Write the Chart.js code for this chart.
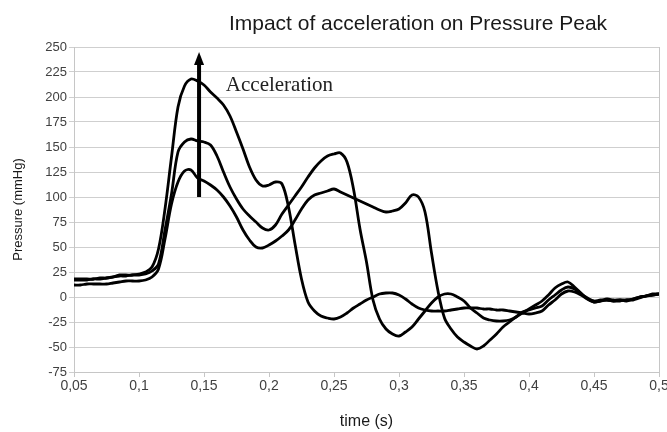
<!DOCTYPE html>
<html>
<head>
<meta charset="utf-8">
<script src="https://cdn.jsdelivr.net/npm/chart.js@4.4.0/dist/chart.umd.min.js"></script>
<style>
  html, body { margin: 0; padding: 0; background: #fff; }
  #wrap { position: relative; width: 667px; height: 432px; }
</style>
</head>
<body>
<div id="wrap"><canvas id="pressureChart"></canvas></div>
<script>
// time axis (s), one sample every 5 ms
const times = [
  0.050, 0.055, 0.060, 0.065, 0.070, 0.075, 0.080, 0.085, 0.090, 0.095,
  0.100, 0.105, 0.110, 0.115, 0.120, 0.125, 0.130, 0.135, 0.140, 0.145,
  0.150, 0.155, 0.160, 0.165, 0.170, 0.175, 0.180, 0.185, 0.190, 0.195,
  0.200, 0.205, 0.210, 0.215, 0.220, 0.225, 0.230, 0.235, 0.240, 0.245,
  0.250, 0.255, 0.260, 0.265, 0.270, 0.275, 0.280, 0.285, 0.290, 0.295,
  0.300, 0.305, 0.310, 0.315, 0.320, 0.325, 0.330, 0.335, 0.340, 0.345,
  0.350, 0.355, 0.360, 0.365, 0.370, 0.375, 0.380, 0.385, 0.390, 0.395,
  0.400, 0.405, 0.410, 0.415, 0.420, 0.425, 0.430, 0.435, 0.440, 0.445,
  0.450, 0.455, 0.460, 0.465, 0.470, 0.475, 0.480, 0.485, 0.490, 0.495,
  0.500
];

// pressure (mmHg), highest acceleration
const pressureHigh = [
  18, 18, 18, 18, 19, 19, 20, 22, 22, 22,
  23, 25, 30, 48, 88, 140, 190, 211, 218, 216,
  212, 205, 199, 192, 181, 165, 148, 130, 117, 111,
  112, 115, 113, 90, 53, 18, -5, -14, -19, -21,
  -22, -20, -16, -11, -7, -3, 0, 3, 4, 4,
  2, -2, -7, -11, -13, -14, -14, -14, -13, -12,
  -11, -11, -11, -12, -12, -13, -13, -14, -15, -16,
  -17, -16, -14, -8, -3, 3, 6, 5, 2, -2,
  -5, -4, -3, -4, -4, -3, -3, -1, 1, 2,
  3
];

// pressure (mmHg), middle acceleration
const pressureMid = [
  17, 17, 17, 18, 18, 19, 20, 21, 21, 22,
  22, 23, 26, 33, 67, 103, 145, 155, 158, 156,
  155, 152, 141, 125, 110, 98, 88, 81, 75, 69,
  67, 72, 83, 92, 101, 110, 120, 129, 136, 141,
  143, 144, 135, 108, 68, 35, -3, -22, -32, -37,
  -39, -35, -30, -22, -14, -6, 0, 3, 3, 0,
  -4, -11, -16, -21, -23, -24, -24, -23, -20, -15,
  -13, -11, -9, -3, 2, 7, 10, 8, 3, -1,
  -4, -3, -3, -4, -3, -3, -2, 0, 1, 2,
  3
];

// pressure (mmHg), lowest acceleration
const pressureLow = [
  12, 12, 13, 13, 13, 13, 14, 15, 16, 16,
  16, 17, 20, 28, 58, 93, 115, 126, 127, 119,
  116, 112, 107, 100, 91, 80, 67, 57, 50, 49,
  52, 56, 61, 67, 77, 88, 97, 102, 104, 106,
  108, 105, 102, 99, 96, 93, 90, 87, 85, 86,
  88, 94, 102, 100, 85, 44, 6, -21, -32, -40,
  -45, -49, -52, -49, -43, -37, -30, -25, -20, -16,
  -12, -8, -4, 2, 9, 13, 15, 10, 4, -2,
  -5, -4, -2, -3, -3, -4, -2, 0, 1, 3,
  3
];

// arrow + label annotation (data units)
const arrowTime = 0.1462;
const arrowFrom = 100;
const arrowTo = 245;
const noteTime = 0.1668;
const noteValue = 206;
const noteText = 'Acceleration';
const chartTitle = 'Impact of acceleration on Pressure Peak';

function toSeries(values) {
    return times.map(function (t, i) { return { x: t, y: values[i] }; });
}

function lineSet(values) {
    return {
        data: toSeries(values),
        borderColor: '#000',
        borderWidth: 2.8,
        pointRadius: 0,
        tension: 0.35,
        fill: false,
    };
}

const decorations = {
    id: 'decorations',
    afterDatasetsDraw(chart) {
        const ctx = chart.ctx;
        const area = chart.chartArea;
        const xs = chart.scales.x;
        const ys = chart.scales.y;
        ctx.save();
        // right frame edge
        ctx.strokeStyle = '#c6c6c6';
        ctx.lineWidth = 1;
        ctx.beginPath();
        ctx.moveTo(Math.round(area.right) + 0.5, area.top);
        ctx.lineTo(Math.round(area.right) + 0.5, area.bottom);
        ctx.stroke();

        // acceleration arrow
        const ax = xs.getPixelForValue(arrowTime);
        const y0 = ys.getPixelForValue(arrowFrom);
        const y1 = ys.getPixelForValue(arrowTo);
        ctx.strokeStyle = '#000';
        ctx.fillStyle = '#000';
        ctx.lineWidth = 4;
        ctx.beginPath();
        ctx.moveTo(ax, y0);
        ctx.lineTo(ax, y1 + 10);
        ctx.stroke();
        ctx.beginPath();
        ctx.moveTo(ax, y1);
        ctx.lineTo(ax - 5, y1 + 13);
        ctx.lineTo(ax + 5, y1 + 13);
        ctx.closePath();
        ctx.fill();

        // annotation text
        ctx.font = '21px "Liberation Serif", "DejaVu Serif", serif';
        ctx.fillStyle = '#222';
        ctx.textAlign = 'left';
        ctx.textBaseline = 'alphabetic';
        ctx.fillText(noteText, xs.getPixelForValue(noteTime), ys.getPixelForValue(noteValue));

        // chart title
        ctx.font = '21px "Liberation Sans", Arial, sans-serif';
        ctx.fillStyle = '#1a1a1a';
        ctx.textAlign = 'center';
        ctx.fillText(chartTitle, 418, 30);
        ctx.restore();
    }
};

function buildChart() {
    const ctx = document.getElementById('pressureChart').getContext('2d');
    new Chart(ctx, {
        type: 'line',
        data: {
            datasets: [lineSet(pressureHigh), lineSet(pressureMid), lineSet(pressureLow)],
        },
        options: {
            responsive: true,
            maintainAspectRatio: false,
            animation: false,
            events: [],
            layout: { padding: { top: 47, left: 4, right: 8, bottom: 1 } },
            plugins: {
                legend: { display: false },
                tooltip: { enabled: false },
            },
            scales: {
                x: {
                    type: 'linear',
                    min: 0.05,
                    max: 0.5,
                    ticks: {
                        stepSize: 0.05,
                        color: '#404040',
                        padding: 1,
                        maxRotation: 0,
                        font: { family: '"Liberation Sans", Arial, sans-serif', size: 14 },
                        callback: function (v) {
                            return String(Number(v.toFixed(2))).replace('.', ',');
                        },
                    },
                    grid: { drawOnChartArea: false, drawTicks: true, tickLength: 5, color: '#c6c6c6' },
                    border: { color: '#c6c6c6' },
                    title: {
                        display: true,
                        text: 'time (s)',
                        color: '#1a1a1a',
                        padding: { top: 16, bottom: 0 },
                        font: { family: '"Liberation Sans", Arial, sans-serif', size: 16 },
                    },
                    afterFit: function (scale) {
                        scale.paddingRight = 0;
                    },
                },
                y: {
                    min: -75,
                    max: 250,
                    ticks: {
                        stepSize: 25,
                        color: '#404040',
                        padding: 2,
                        font: { family: '"Liberation Sans", Arial, sans-serif', size: 13 },
                    },
                    grid: { color: '#cfcfcf', tickLength: 5 },
                    border: { color: '#c6c6c6' },
                    title: {
                        display: true,
                        text: 'Pressure (mmHg)',
                        color: '#1a1a1a',
                        padding: { top: 7, bottom: 0 },
                        font: { family: '"Liberation Sans", Arial, sans-serif', size: 13 },
                    },
                    afterFit: function (scale) {
                        scale.width = 70;
                    },
                },
            },
        },
        plugins: [decorations],
    });
}

document.addEventListener('DOMContentLoaded', function () {
    buildChart();
});
</script>
</body>
</html>
